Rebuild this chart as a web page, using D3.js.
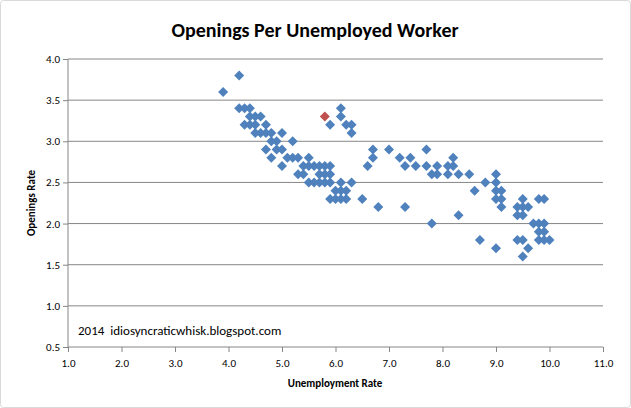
<!DOCTYPE html><html><head><script src="https://cdn.jsdelivr.net/npm/d3@7"></script>
<style>body{margin:0;background:#fff}text{font-family:Carlito,Calibri,"Liberation Sans",sans-serif}</style></head><body><svg id="c" width="631" height="408"></svg><script>
const xTicks=[1,2,3,4,5,6,7,8,9,10,11];
const yTicks=[0.5,1,1.5,2,2.5,3,3.5,4];
const unemp=[3.9,4.2,4.2,4.3,4.4,4.3,4.4,4.5,4.6,4.4,4.5,4.6,4.7,4.5,4.7,4.8,4.7,4.8,4.9,5.0,4.9,5.0,4.8,5.1,5.2,5.0,5.3,5.2,5.4,5.5,5.4,5.3,5.5,5.6,5.7,5.8,5.9,5.5,5.6,5.7,5.8,5.9,5.7,5.8,5.9,5.9,6.0,6.1,6.0,6.1,6.2,6.1,6.3,6.2,5.9,6.1,6.1,6.2,6.3,6.3,6.5,6.6,6.7,6.7,6.8,7.0,7.2,7.3,7.3,7.4,7.5,7.7,7.7,7.8,7.8,7.9,7.9,8.1,8.1,8.2,8.2,8.3,8.3,8.5,8.6,8.7,8.8,9.0,9.0,9.0,9.0,9.1,9.1,9.1,9.0,9.4,9.5,9.5,9.4,9.5,9.6,9.4,9.5,9.6,9.5,9.7,9.8,9.9,9.8,9.9,9.9,9.8,9.9,10.0,9.8];
const openings=[3.6,3.8,3.4,3.4,3.4,3.2,3.3,3.3,3.3,3.2,3.2,3.1,3.2,3.1,3.1,3.1,2.9,3.0,3.0,3.1,2.9,2.9,2.8,2.8,3.0,2.7,2.8,2.8,2.7,2.7,2.6,2.6,2.8,2.7,2.7,2.7,2.7,2.5,2.5,2.6,2.6,2.6,2.5,2.5,2.5,2.3,2.3,2.3,2.4,2.4,2.4,2.5,2.5,2.3,3.2,3.4,3.3,3.2,3.2,3.1,2.3,2.7,2.8,2.9,2.2,2.9,2.8,2.7,2.2,2.8,2.7,2.9,2.7,2.6,2.0,2.6,2.7,2.7,2.6,2.8,2.7,2.6,2.1,2.6,2.4,1.8,2.5,2.5,2.6,2.4,2.3,2.3,2.2,2.4,1.7,2.2,2.2,2.3,2.1,2.1,2.2,1.8,1.8,1.7,1.6,2.0,2.3,2.3,1.9,2.0,1.9,1.8,1.8,1.8,2.0];
const highlight=[5.8,3.3];
const svg=d3.select("#c");
svg.append("rect").attr("x",0.5).attr("y",0.5).attr("width",630).attr("height",407).attr("rx",3).attr("fill","#fff").attr("stroke","#d9d9d9");
const x=d3.scaleLinear().domain([1,11]).range([68,603]);
const y=d3.scaleLinear().domain([0.5,4]).range([347,59]);
svg.append("g").selectAll("line").data(yTicks.slice(1)).join("line").attr("x1",68).attr("x2",603).attr("y1",d=>y(d)).attr("y2",d=>y(d)).attr("stroke","#868686");
const xa=svg.append("g").attr("transform","translate(0,347)").call(d3.axisBottom(x).tickValues(xTicks).tickFormat(d3.format(".1f")).tickSize(5));
const ya=svg.append("g").attr("transform","translate(68,0)").call(d3.axisLeft(y).tickValues(yTicks).tickFormat(d3.format(".1f")).tickSize(5));
[xa,ya].forEach(a=>{a.selectAll("path,line").attr("stroke","#868686");a.selectAll("text").attr("font-size",11).attr("fill","#000");a.select(".domain").attr("d",a===xa?"M68,0H603":"M0,59V347");});
xa.selectAll("text").attr("dy","1.1em");
const sym=d3.symbol().type(d3.symbolSquare).size(50);
const diamond=sel=>sel.attr("d",sym).attr("transform",d=>`translate(${x(d[0])},${y(d[1])}) rotate(45)`);
svg.append("g").selectAll("path").data(unemp.map((u,i)=>[u,openings[i]])).join("path").call(diamond).attr("fill","#4f81bd");
svg.append("path").datum(highlight).call(diamond).attr("fill","#c0504d");
svg.append("text").attr("x",315).attr("y",37).attr("text-anchor","middle").attr("font-size",20).attr("font-weight","bold").text("Openings Per Unemployed Worker");
svg.append("text").attr("x",335).attr("y",387).attr("text-anchor","middle").attr("font-size",11).attr("font-weight","bold").text("Unemployment Rate");
svg.append("text").attr("transform","translate(35,203) rotate(-90)").attr("text-anchor","middle").attr("font-size",11).attr("font-weight","bold").text("Openings Rate");
svg.append("text").attr("x",78).attr("y",335).attr("font-size",13).style("white-space","pre").text("2014  idiosyncraticwhisk.blogspot.com");
</script></body></html>
